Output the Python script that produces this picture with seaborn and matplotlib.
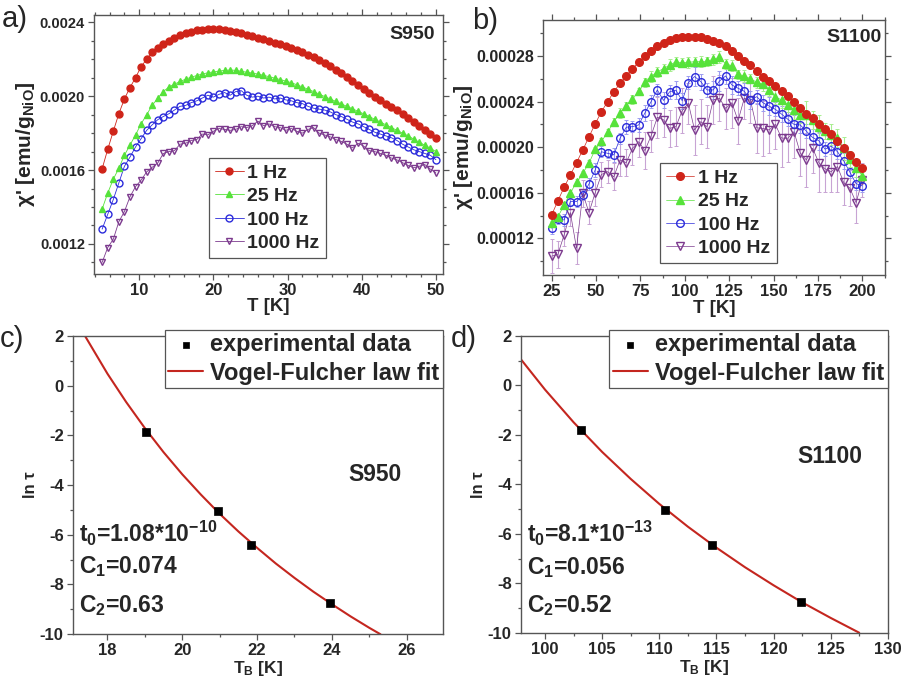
import numpy as np
import matplotlib
matplotlib.use("Agg")
import matplotlib.pyplot as plt
from matplotlib.ticker import MultipleLocator, FormatStrFormatter
import seaborn as sns

# ---------------- data ----------------
# panel a (S950), chi' in units of 1e-3 emu/g
T_a = [5.0, 5.75, 6.5, 7.25, 8.0, 8.75, 9.5, 10.25, 11.0, 11.75,
       12.5, 13.25, 14.0, 14.75, 15.5, 16.25, 17.0, 17.75, 18.5, 19.25,
       20.0, 20.75, 21.5, 22.25, 23.0, 23.75, 24.5, 25.25, 26.0, 26.75,
       27.5, 28.25, 29.0, 29.75, 30.5, 31.25, 32.0, 32.75, 33.5, 34.25,
       35.0, 35.75, 36.5, 37.25, 38.0, 38.75, 39.5, 40.25, 41.0, 41.75,
       42.5, 43.25, 44.0, 44.75, 45.5, 46.25, 47.0, 47.75, 48.5, 49.25, 50.0]
a_1hz = [1.607, 1.712, 1.81, 1.905, 1.985, 2.047, 2.10, 2.16, 2.20, 2.237,
         2.262, 2.283, 2.30, 2.315, 2.332, 2.343, 2.35, 2.356, 2.36, 2.362,
         2.364, 2.362, 2.358, 2.353, 2.348, 2.34, 2.333, 2.325, 2.317, 2.308,
         2.299, 2.29, 2.281, 2.272, 2.262, 2.25, 2.238, 2.225, 2.212, 2.197,
         2.18, 2.162, 2.144, 2.125, 2.105, 2.085, 2.062, 2.038, 2.018, 1.998,
         1.98, 1.96, 1.942, 1.925, 1.905, 1.882, 1.86, 1.84, 1.818, 1.795, 1.773]
a_25hz = [1.389, 1.475, 1.55, 1.61, 1.68, 1.735, 1.79, 1.85, 1.90, 1.95,
          1.99, 2.025, 2.05, 2.065, 2.08, 2.092, 2.103, 2.112, 2.12, 2.127,
          2.132, 2.136, 2.14, 2.142, 2.14, 2.135, 2.13, 2.125, 2.12, 2.113,
          2.106, 2.098, 2.09, 2.082, 2.073, 2.062, 2.05, 2.038, 2.025, 2.012,
          1.998, 1.985, 1.972, 1.958, 1.945, 1.932, 1.918, 1.905, 1.89, 1.875,
          1.86, 1.845, 1.83, 1.815, 1.80, 1.785, 1.768, 1.75, 1.735, 1.718, 1.70]
a_100hz = [1.28, 1.36, 1.44, 1.53, 1.62, 1.67, 1.725, 1.77, 1.815, 1.845,
           1.873, 1.89, 1.905, 1.925, 1.945, 1.95, 1.965, 1.975, 1.99, 2.005,
           1.995, 2.01, 2.02, 2.005, 2.025, 2.03, 2.005, 1.995, 2.0, 1.99,
           1.995, 1.985, 1.99, 1.98, 1.975, 1.965, 1.96, 1.945, 1.935, 1.93,
           1.925, 1.915, 1.90, 1.89, 1.875, 1.86, 1.85, 1.835, 1.82, 1.805,
           1.795, 1.785, 1.775, 1.76, 1.74, 1.725, 1.71, 1.70, 1.69, 1.68, 1.656]
a_1000hz = [1.10, 1.18, 1.225, 1.32, 1.375, 1.455, 1.51, 1.545, 1.59, 1.615,
            1.638, 1.69, 1.70, 1.705, 1.74, 1.745, 1.76, 1.765, 1.795, 1.79,
            1.81, 1.825, 1.82, 1.815, 1.82, 1.835, 1.83, 1.84, 1.865, 1.84,
            1.85, 1.835, 1.83, 1.815, 1.825, 1.81, 1.80, 1.82, 1.83, 1.80,
            1.79, 1.78, 1.765, 1.755, 1.74, 1.72, 1.745, 1.73, 1.705, 1.70,
            1.69, 1.68, 1.665, 1.655, 1.64, 1.625, 1.612, 1.62, 1.63, 1.605, 1.584]
SCALE_A = 1e-3

# panel b (S1100), chi' in units of 1e-4 emu/g
T_b = [25, 28.5, 32, 35.5, 39, 42.5, 46, 49.5, 53, 56.5,
       60, 63.5, 67, 70.5, 74, 77.5, 81, 84.5, 88, 91.5,
       95, 98.5, 102, 105.5, 109, 112.5, 116, 119.5, 123, 126.5,
       130, 133.5, 137, 140.5, 144, 147.5, 151, 154.5, 158, 161.5,
       165, 168.5, 172, 175.5, 179, 182.5, 186, 189.5, 193, 196.5, 200]
b_1hz = [1.405, 1.53, 1.648, 1.755, 1.865, 1.975, 2.09, 2.205, 2.31, 2.40,
         2.485, 2.56, 2.625, 2.69, 2.745, 2.80, 2.845, 2.885, 2.915, 2.942,
         2.96, 2.968, 2.97, 2.97, 2.968, 2.952, 2.93, 2.91, 2.89, 2.845,
         2.80, 2.755, 2.72, 2.665, 2.62, 2.583, 2.54, 2.49, 2.445, 2.395,
         2.34, 2.295, 2.253, 2.20, 2.155, 2.115, 2.05, 1.99, 1.93, 1.87, 1.815]
b_25hz = [1.332, 1.39, 1.49, 1.60, 1.69, 1.77, 1.86, 1.98, 2.05, 2.13,
          2.224, 2.30, 2.365, 2.42, 2.49, 2.57, 2.62, 2.66, 2.69, 2.72,
          2.75, 2.74, 2.745, 2.75, 2.75, 2.755, 2.77, 2.79, 2.73, 2.715,
          2.64, 2.625, 2.60, 2.57, 2.55, 2.50, 2.44, 2.415, 2.37, 2.33,
          2.28, 2.285, 2.24, 2.18, 2.14, 2.11, 2.08, 1.99, 1.90, 1.82, 1.75]
b_100hz = [1.289, 1.368, 1.361, 1.522, 1.522, 1.58, 1.677, 1.80, 1.96, 1.946,
           1.932, 2.078, 2.175, 2.18, 2.195, 2.30, 2.40, 2.502, 2.41, 2.487,
           2.50, 2.408, 2.566, 2.62, 2.575, 2.502, 2.502, 2.58, 2.625, 2.546,
           2.517, 2.49, 2.414, 2.443, 2.39, 2.36, 2.332, 2.29, 2.245, 2.20,
           2.195, 2.14, 2.085, 2.056, 1.982, 2.01, 1.96, 1.88, 1.78, 1.68, 1.66]
b_1000hz = [1.044, 1.06, 1.23, 1.426, 1.112, 1.596, 1.426, 1.60, 1.76, 1.785,
            1.74, 1.888, 1.864, 1.99, 2.048, 1.97, 2.10, 2.262, 2.24, 2.165,
            2.18, 2.32, 2.385, 2.151, 2.224, 2.18, 2.414, 2.43, 2.34, 2.39,
            2.232, 2.43, 2.41, 2.17, 2.164, 2.151, 2.20, 2.08, 2.078, 2.136,
            1.95, 1.888, 1.99, 1.864, 1.81, 1.785, 1.83, 1.69, 1.64, 1.513, 1.71]
b_25hz_err = [0.02, 0.02, 0.03, 0.02, 0.03, 0.02, 0.03, 0.02, 0.03, 0.03,
              0.03, 0.04, 0.03, 0.04, 0.03, 0.04, 0.05, 0.04, 0.04, 0.05,
              0.04, 0.04, 0.05, 0.04, 0.05, 0.04, 0.05, 0.05, 0.04, 0.05,
              0.04, 0.05, 0.04, 0.05, 0.06, 0.05, 0.06, 0.07, 0.06, 0.08,
              0.07, 0.12, 0.08, 0.10, 0.07, 0.09, 0.08, 0.10, 0.07, 0.08, 0.06]
b_100hz_err = [0.05, 0.04, 0.05, 0.04, 0.05, 0.04, 0.05, 0.06, 0.05, 0.04,
               0.06, 0.05, 0.06, 0.05, 0.06, 0.07, 0.06, 0.05, 0.07, 0.06,
               0.08, 0.07, 0.06, 0.08, 0.07, 0.06, 0.08, 0.09, 0.07, 0.08,
               0.06, 0.07, 0.08, 0.06, 0.07, 0.08, 0.06, 0.07, 0.06, 0.08,
               0.07, 0.06, 0.07, 0.08, 0.06, 0.07, 0.06, 0.07, 0.05, 0.06, 0.05]
b_1000hz_err = [0.15, 0.12, 0.10, 0.12, 0.14, 0.12, 0.10, 0.12, 0.11, 0.10,
                0.12, 0.14, 0.12, 0.15, 0.13, 0.16, 0.14, 0.18, 0.15, 0.16,
                0.17, 0.20, 0.18, 0.22, 0.20, 0.19, 0.21, 0.20, 0.18, 0.22,
                0.20, 0.18, 0.20, 0.22, 0.24, 0.20, 0.22, 0.25, 0.21, 0.23,
                0.20, 0.24, 0.22, 0.26, 0.20, 0.18, 0.22, 0.20, 0.16, 0.18, 0.15]
SCALE_B = 1e-4

freq_labels = ["1 Hz", "25 Hz", "100 Hz", "1000 Hz"]

# panel c (S950) Vogel-Fulcher
TB_c = [19.03, 20.95, 21.84, 23.95]
lntau_c = [-1.85, -5.05, -6.43, -8.75]
fitT_c = [17.4, 18.0, 18.5, 19.0, 19.5, 20.0, 20.5, 21.0, 21.5, 22.0,
          22.5, 23.0, 23.5, 24.0, 24.5, 25.0, 25.3]
fit_c = [2.00, 0.48, -0.66, -1.71, -2.68, -3.57, -4.39, -5.16, -5.87, -6.53,
         -7.16, -7.74, -8.29, -8.80, -9.29, -9.75, -10.01]

# panel d (S1100) Vogel-Fulcher
TB_d = [103.15, 110.5, 114.65, 122.4]
lntau_d = [-1.82, -5.05, -6.45, -8.75]
fitT_d = [97.9, 100, 102.5, 105, 107.5, 110, 112.5, 115, 117.5, 120,
          122.5, 125, 127.5]
fit_d = [1.05, -0.17, -1.49, -2.69, -3.78, -4.79, -5.71, -6.56, -7.35, -8.08,
         -8.77, -9.40, -10.00]

# ---------------- style ----------------
sns.set_theme(style="ticks")
plt.rcParams["font.family"] = ["Liberation Sans", "DejaVu Sans"]
plt.rcParams["font.weight"] = "bold"
plt.rcParams["axes.unicode_minus"] = False
plt.rcParams["mathtext.fontset"] = "custom"
plt.rcParams["mathtext.rm"] = "Liberation Sans:bold"
plt.rcParams["mathtext.bf"] = "Liberation Sans:bold"
plt.rcParams["mathtext.it"] = "Liberation Sans:bold"
plt.rcParams["mathtext.default"] = "rm"

RED = "#cf2419"
GREEN = "#56e23a"
BLUE = "#2b2bdb"
PURPLE = "#7c3a8e"
FIT = "#c4261f"
SPINE = "#555555"

fig = plt.figure(figsize=(9.02, 6.87), dpi=100)
ax_a = fig.add_axes([0.1042, 0.6012, 0.3869, 0.3770])
ax_b = fig.add_axes([0.6020, 0.5997, 0.3792, 0.3712])
ax_c = fig.add_axes([0.0806, 0.0771, 0.4105, 0.4338])
ax_d = fig.add_axes([0.5773, 0.0790, 0.4069, 0.4319])


def style_axes(ax, mirror=True, xfs=12, yfs=11):
    for s in ax.spines.values():
        s.set_color(SPINE)
        s.set_linewidth(1.0)
        s.set_visible(True)
    ax.tick_params(which="both", direction="out", color=SPINE, width=0.9,
                   pad=2.5)
    ax.tick_params(axis="x", labelsize=xfs)
    ax.tick_params(axis="y", labelsize=yfs)
    ax.tick_params(which="major", length=4)
    ax.tick_params(which="minor", length=2.5)
    if mirror:
        ax.tick_params(which="both", top=True, right=True,
                       labeltop=False, labelright=False)


def freq_series(ax, x, ys, scale, ms=5.0, lw=0.6):
    styles = [
        dict(marker="o", color=RED, markerfacecolor=RED, markeredgecolor=RED),
        dict(marker="^", color=GREEN, markerfacecolor=GREEN, markeredgecolor=GREEN),
        dict(marker="o", color=BLUE, markerfacecolor="none", markeredgecolor=BLUE),
        dict(marker="v", color=PURPLE, markerfacecolor="none", markeredgecolor=PURPLE),
    ]
    for i in [3, 2, 1, 0]:
        y = np.asarray(ys[i]) * scale
        sns.lineplot(x=x, y=y, ax=ax, errorbar=None, sort=False,
                     linewidth=lw, markersize=ms, markeredgewidth=1.0,
                     label=freq_labels[i], zorder=3 + (3 - i), **styles[i])


def freq_legend(ax, anchor):
    h, l = ax.get_legend_handles_labels()
    idx = [l.index(s) for s in freq_labels]
    leg = ax.legend([h[k] for k in idx], [l[k] for k in idx],
                    loc="upper left", bbox_to_anchor=anchor,
                    borderaxespad=0, fancybox=False, framealpha=1,
                    edgecolor=SPINE, handlelength=1.45, handletextpad=0.2,
                    labelspacing=0.3, borderpad=0.32,
                    prop={"weight": "bold", "size": 14})
    leg.get_frame().set_linewidth(0.9)


# ---- panel a ----
freq_series(ax_a, T_a, [a_1hz, a_25hz, a_100hz, a_1000hz], SCALE_A)
ax_a.set_xlim(3.9, 50.95)
ax_a.set_ylim(0.001037, 0.00244)
ax_a.xaxis.set_major_locator(MultipleLocator(10))
ax_a.xaxis.set_minor_locator(MultipleLocator(2))
ax_a.yaxis.set_major_locator(MultipleLocator(0.0004))
ax_a.yaxis.set_minor_locator(MultipleLocator(0.0001))
ax_a.yaxis.set_major_formatter(FormatStrFormatter("%.4f"))
style_axes(ax_a, mirror=True, xfs=12, yfs=10.5)
ax_a.set_xlabel("T [K]", fontsize=13.5, fontweight="bold", labelpad=0)
ax_a.set_ylabel("χ' [emu/g$_{NiO}$]", fontsize=15, fontweight="bold", labelpad=2)
ax_a.text(0.978, 0.925, "S950", transform=ax_a.transAxes, ha="right",
          va="center", fontsize=14, fontweight="bold")
freq_legend(ax_a, (0.33, 0.448))

# ---- panel b ----
errs = [None, b_25hz_err, b_100hz_err, b_1000hz_err]
ecols = [None, "#a8ee90", "#9d9df0", "#c8a4d4"]
for i, yv in [(3, b_1000hz), (2, b_100hz), (1, b_25hz)]:
    ax_b.errorbar(T_b, np.asarray(yv) * SCALE_B,
                  yerr=np.asarray(errs[i]) * SCALE_B, fmt="none",
                  ecolor=ecols[i], elinewidth=0.8, capsize=1.5, capthick=0.7,
                  zorder=1)
freq_series(ax_b, T_b, [b_1hz, b_25hz, b_100hz, b_1000hz], SCALE_B,
            ms=5.5, lw=0.5)
ax_b.set_xlim(20.1, 212.8)
ax_b.set_ylim(0.0000878, 0.0003116)
ax_b.xaxis.set_major_locator(MultipleLocator(25))
ax_b.xaxis.set_minor_locator(MultipleLocator(12.5))
ax_b.yaxis.set_major_locator(MultipleLocator(0.00004))
ax_b.yaxis.set_minor_locator(MultipleLocator(0.00002))
ax_b.yaxis.set_major_formatter(FormatStrFormatter("%.5f"))
style_axes(ax_b, mirror=True, xfs=12, yfs=11.5)
ax_b.set_xlabel("T [K]", fontsize=13.5, fontweight="bold", labelpad=1)
ax_b.set_ylabel("χ' [emu/g$_{NiO}$]", fontsize=15, fontweight="bold", labelpad=1)
ax_b.text(0.99, 0.93, "S1100", transform=ax_b.transAxes, ha="right",
          va="center", fontsize=14, fontweight="bold")
freq_legend(ax_b, (0.342, 0.439))


def vf_panel(ax, tb, lt, ft, fv, xlim, xmaj, xmin, sample, params, stxt):
    sns.lineplot(x=ft, y=fv, ax=ax, color=FIT, linewidth=1.5, sort=False,
                 errorbar=None, label="Vogel-Fulcher law fit", zorder=2)
    sns.scatterplot(x=tb, y=lt, ax=ax, marker="s", color="black", s=28,
                    edgecolor="black", linewidth=0.5, zorder=4,
                    label="experimental data")
    ax.set_xlim(*xlim)
    ax.set_ylim(-10, 2)
    ax.xaxis.set_major_locator(MultipleLocator(xmaj))
    ax.xaxis.set_minor_locator(MultipleLocator(xmin))
    ax.yaxis.set_major_locator(MultipleLocator(2))
    ax.yaxis.set_minor_locator(MultipleLocator(1))
    style_axes(ax, mirror=False, xfs=12, yfs=12)
    ax.set_xlabel("T$_B$ [K]", fontsize=12.5, fontweight="bold", labelpad=1)
    ax.set_ylabel("ln τ", fontsize=12, fontweight="bold", labelpad=1)
    h, l = ax.get_legend_handles_labels()
    order = [l.index("experimental data"), l.index("Vogel-Fulcher law fit")]
    leg = ax.legend([h[k] for k in order], [l[k] for k in order],
                    loc="upper right", bbox_to_anchor=(1.0, 1.02),
                    borderaxespad=0, fancybox=False, framealpha=1,
                    edgecolor=SPINE, handlelength=1.5, handletextpad=0.3,
                    labelspacing=0.22, borderpad=0.14, markerscale=0.7,
                    prop={"weight": "bold", "size": 17})
    leg.get_frame().set_linewidth(0.9)
    ax.text(sample[0], sample[1], stxt, transform=ax.transAxes, ha="center",
            va="center", fontsize=16.5, fontweight="bold")
    for (yy, txt) in params:
        ax.text(0.018, yy, txt, transform=ax.transAxes, ha="left",
                va="center", fontsize=16.5, fontweight="bold")


vf_panel(ax_c, TB_c, lntau_c, fitT_c, fit_c, (17.07, 26.97), 2, 1,
         (0.816, 0.534),
         [(0.336, "t$_0$=1.08*10$^{-10}$"), (0.225, "C$_1$=0.074"),
          (0.097, "C$_2$=0.63")], "S950")
vf_panel(ax_d, TB_d, lntau_d, fitT_d, fit_d, (97.87, 130), 5, 2.5,
         (0.843, 0.593),
         [(0.333, "t$_0$=8.1*10$^{-13}$"), (0.221, "C$_1$=0.056"),
          (0.093, "C$_2$=0.52")], "S1100")

# panel letters
fig.text(0.002, 0.992, "a)", fontsize=21, fontweight="normal", va="top", ha="left")
fig.text(0.523, 0.990, "b)", fontsize=21, fontweight="normal", va="top", ha="left")
fig.text(0.0, 0.527, "c)", fontsize=21, fontweight="normal", va="top", ha="left")
fig.text(0.500, 0.527, "d)", fontsize=21, fontweight="normal", va="top", ha="left")

fig.savefig("out.png", dpi=100, facecolor="white")
